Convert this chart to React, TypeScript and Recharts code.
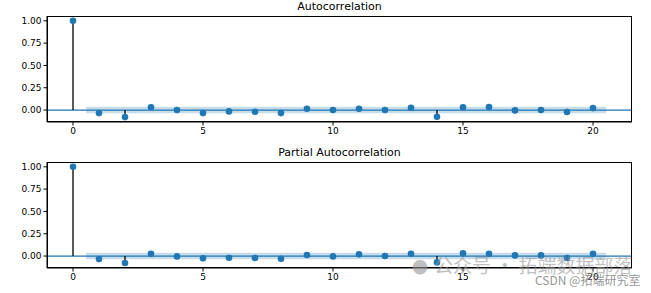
import React from "react";
import { ComposedChart, Scatter, ErrorBar, Area, XAxis, YAxis, ReferenceLine } from "recharts";

const lags = [0, 1, 2, 3, 4, 5, 6, 7, 8, 9, 10, 11, 12, 13, 14, 15, 16, 17, 18, 19, 20];
const acfValues = [1.0, -0.034, -0.079, 0.03, 0.0, -0.034, -0.015, -0.019, -0.034, 0.015, 0.0, 0.015, 0.0, 0.026, -0.075, 0.03, 0.034, -0.004, 0.0, -0.022, 0.022];
const pacfValues = [1.0, -0.034, -0.078, 0.026, -0.004, -0.026, -0.019, -0.022, -0.03, 0.011, -0.004, 0.019, 0.0, 0.026, -0.071, 0.03, 0.026, 0.007, 0.007, -0.022, 0.026];
const bandLags = [0.5, 20.5];
const bandHalf = 0.036;
const xTicks = [0, 5, 10, 15, 20];
const yTicks = [0, 0.25, 0.5, 0.75, 1.0];

const blue = "#1f77b4";
const font = "DejaVu Sans";

function StemPanel({ title, values }: { title: string; values: number[] }) {
    const points = lags.map((lag, i) => ({
        lag,
        value: values[i],
        stem: values[i] >= 0 ? [values[i], 0] : [0, -values[i]]
    }));
    const band = bandLags.map((lag) => ({ lag, band: [-bandHalf, bandHalf] }));
    return (
        <div style={{ position: "relative", width: 651, height: 146 }}>
            <div
                style={{
                    position: "absolute",
                    left: 47,
                    width: 585,
                    top: 0,
                    textAlign: "center",
                    fontFamily: font,
                    fontSize: 11,
                    lineHeight: "14px",
                    color: "#000"
                }}
            >
                {title}
            </div>
            <ComposedChart width={651} height={146} margin={{ top: 16, right: 19, bottom: 4, left: 0 }}>
                <XAxis
                    dataKey="lag"
                    type="number"
                    domain={[-1, 21.5]}
                    ticks={xTicks}
                    allowDataOverflow
                    height={20}
                    stroke="#000"
                    tickSize={3.5}
                    tick={{ fill: "#000", fontSize: 9, fontFamily: font }}
                />
                <YAxis
                    type="number"
                    domain={[-0.134, 1.054]}
                    ticks={yTicks}
                    allowDataOverflow
                    width={47}
                    stroke="#000"
                    tickSize={3.5}
                    tickFormatter={(v: number) => v.toFixed(2)}
                    tick={{ fill: "#000", fontSize: 9, fontFamily: font }}
                />
                <Area
                    data={band}
                    dataKey="band"
                    type="linear"
                    fill={blue}
                    fillOpacity={0.25}
                    stroke="none"
                    isAnimationActive={false}
                />
                <ReferenceLine y={0} stroke={blue} strokeWidth={1.3} />
                <Scatter data={points} dataKey="value" fill="none" shape={() => <g />} isAnimationActive={false}>
                    <ErrorBar dataKey="stem" direction="y" width={0} stroke="#000" strokeWidth={1.3} />
                </Scatter>
                <Scatter
                    data={points}
                    dataKey="value"
                    fill={blue}
                    isAnimationActive={false}
                    shape={(p: any) => <circle cx={p.cx} cy={p.cy} r={3.3} fill={blue} />}
                />
                <rect />
            </ComposedChart>
            <div
                style={{
                    position: "absolute",
                    left: 47,
                    top: 16,
                    width: 585,
                    height: 106,
                    border: "1px solid #000",
                    boxSizing: "border-box",
                    pointerEvents: "none"
                }}
            />
        </div>
    );
}

export default function App() {
    return (
        <div style={{ position: "absolute", left: 0, top: 0, width: 651, height: 293, background: "#fff" }}>
            <StemPanel title="Autocorrelation" values={acfValues} />
            <StemPanel title="Partial Autocorrelation" values={pacfValues} />
            <div
                style={{
                    position: "absolute",
                    left: 412,
                    top: 253,
                    fontFamily: "Noto Sans CJK SC",
                    fontSize: 19,
                    lineHeight: "24px",
                    color: "rgba(150,150,150,0.6)",
                    whiteSpace: "nowrap"
                }}
            >
                <span style={{ fontSize: 16, marginRight: 6 }}>●</span>公众号 · 拓端数据部落
            </div>
            <div
                style={{
                    position: "absolute",
                    left: 535,
                    top: 272,
                    fontFamily: "Noto Sans CJK SC",
                    fontSize: 12,
                    lineHeight: "16px",
                    color: "rgba(120,120,120,0.8)",
                    whiteSpace: "nowrap"
                }}
            >
                CSDN @拓端研究室
            </div>
        </div>
    );
}
